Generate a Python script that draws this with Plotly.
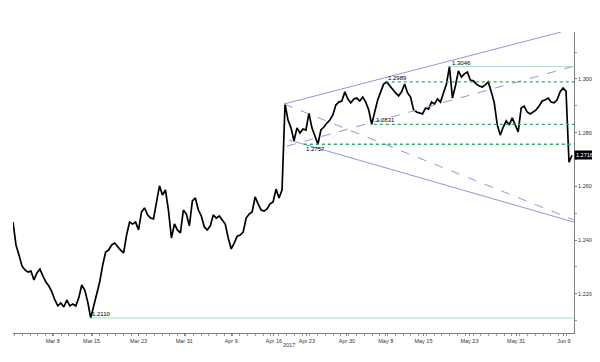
import plotly.graph_objects as go

close = [
    1.2467, 1.2382, 1.2345, 1.2304, 1.2289, 1.2281, 1.2285, 1.2252, 1.2278, 1.2292,
    1.2267, 1.2244, 1.2229, 1.2207, 1.2177, 1.2155, 1.2166, 1.2151, 1.2177, 1.2155,
    1.2162, 1.2155, 1.2185, 1.2233, 1.2214, 1.2170, 1.2110, 1.2158, 1.2203, 1.2244,
    1.2307, 1.2356, 1.2363, 1.2382, 1.2389, 1.2374, 1.2363, 1.2352, 1.2419, 1.2467,
    1.2460, 1.2467, 1.2438, 1.2505, 1.2520, 1.2494, 1.2482, 1.2479, 1.2538, 1.2602,
    1.2568, 1.2587, 1.2512, 1.2408, 1.2460, 1.2438, 1.2427, 1.2512, 1.2497, 1.2453,
    1.2546, 1.2557, 1.2512, 1.2490, 1.2449, 1.2438, 1.2453, 1.2494, 1.2482, 1.2490,
    1.2475, 1.2460, 1.2408, 1.2367, 1.2389, 1.2415, 1.2419, 1.2430, 1.2482, 1.2497,
    1.2505, 1.2561, 1.2535, 1.2512, 1.2508, 1.2516, 1.2535, 1.2542, 1.2590, 1.2557,
    1.2587, 1.2907, 1.2847, 1.2818, 1.2770, 1.2818, 1.2799, 1.2814, 1.2810, 1.2873,
    1.2818, 1.2791, 1.2757, 1.2810, 1.2821, 1.2836, 1.2847, 1.2866, 1.2903, 1.2914,
    1.2918, 1.2952, 1.2926, 1.2911, 1.2926, 1.2929, 1.2918, 1.2933, 1.2914, 1.2885,
    1.2831, 1.2877, 1.2922, 1.2952, 1.2981, 1.2989, 1.2974, 1.2959, 1.2948, 1.2937,
    1.2952, 1.2981, 1.2948, 1.2933, 1.2885, 1.2877, 1.2873, 1.2870, 1.2892, 1.2888,
    1.2914, 1.2907, 1.2926, 1.2914, 1.2948, 1.2981, 1.3046, 1.2929, 1.2974, 1.3030,
    1.3007, 1.3019, 1.3026, 1.2996, 1.2993, 1.2981, 1.2974, 1.2970, 1.2978, 1.2989,
    1.2952, 1.2911, 1.2829, 1.2791, 1.2821, 1.2844, 1.2829, 1.2855, 1.2829, 1.2803,
    1.2892, 1.2899, 1.2877, 1.2870, 1.2877, 1.2885, 1.2899, 1.2918, 1.2922, 1.2929,
    1.2914, 1.2911, 1.2922, 1.2952, 1.2966, 1.2955, 1.2690, 1.2716,
]
bar_index = list(range(len(close)))

tick_pos = [13.3, 26.3, 42, 57.3, 73, 87.3, 98.3, 111.7, 124.7, 137.3, 152.7, 168.3, 184.3]
tick_text = ["Mar 8", "Mar 15", "Mar 23", "Mar 31", "Apr 9", "Apr 16", "Apr 23",
             "Apr 30", "May 8", "May 15", "May 23", "May 31", "Jun 9"]
price_ticks = [1.22, 1.24, 1.26, 1.28, 1.30]

# Levels: value, start index, dashed?, label offset
level_values = [1.3046, 1.2989, 1.2831, 1.2757, 1.2110]
level_starts = [146.3, 124.7, 120.7, 97.3, 25.7]
level_dashed = [False, True, True, True, False]
level_label_shift = [4, 4, 4, -5, 4]

# Channel / trend lines: (x0, y0, x1, y1)
trend_solid = [(90.67, 1.2907, 183.3, 1.3175), (92.3, 1.2773, 187.67, 1.2467)]
trend_dashed = [(90.67, 1.2907, 187.67, 1.2475), (91.67, 1.2750, 187.67, 1.3048)]

last_price = 1.2716
x_max = 187.67
y_range = [1.20541, 1.31750]

FONT = "Liberation Sans"
LAV = "#9494d6"
GREEN = "#2fa866"
PALE = "#a8dcc4"

fig = go.Figure()
fig.add_trace(go.Scatter(x=bar_index, y=close, mode="lines",
                         line=dict(color="black", width=1.7), hoverinfo="skip",
                         showlegend=False))

shapes = []
for (x0, y0, x1, y1) in trend_solid:
    shapes.append(dict(type="line", xref="x", yref="y", x0=x0, y0=y0, x1=x1, y1=y1,
                       line=dict(color=LAV, width=1)))
for (x0, y0, x1, y1) in trend_dashed:
    shapes.append(dict(type="line", xref="x", yref="y", x0=x0, y0=y0, x1=x1, y1=y1,
                       line=dict(color=LAV, width=1, dash="dash")))
annotations = []
for v, s, d, sh in zip(level_values, level_starts, level_dashed, level_label_shift):
    if d:
        ln = dict(color=GREEN, width=1.3, dash="dot")
    else:
        ln = dict(color=PALE, width=1)
    shapes.append(dict(type="line", xref="x", yref="y", x0=s, x1=x_max, y0=v, y1=v, line=ln))
    annotations.append(dict(x=s, y=v, xref="x", yref="y", text=f"{v:.4f}", showarrow=False,
                            xanchor="left", yanchor="middle", yshift=sh,
                            font=dict(family=FONT, size=6, color="black")))

annotations.append(dict(x=1, xref="paper", y=last_price, yref="y", text=f"{last_price:.4f}",
                        showarrow=False, xanchor="left", yanchor="middle", xshift=0,
                        bgcolor="black", borderpad=1,
                        font=dict(family=FONT, size=5.5, color="white")))
annotations.append(dict(x=92.3, xref="x", y=-0.04, yref="paper", text="2017", showarrow=False,
                        xanchor="center", yanchor="middle",
                        font=dict(family=FONT, size=5.5, color="#333")))

# page body has an 8px default margin, so the figure is sized/offset for it
fig.update_layout(
    width=592, height=354,
    margin=dict(l=5, r=24, t=24, b=29),
    paper_bgcolor="white", plot_bgcolor="white",
    shapes=shapes, annotations=annotations,
    xaxis=dict(range=[0, x_max], showgrid=False, zeroline=False, showline=True,
               linecolor="#808080", linewidth=1, ticks="outside", ticklen=2,
               tickcolor="#808080", tickvals=tick_pos, ticktext=tick_text,
               tickfont=dict(family=FONT, size=5.5, color="#333"),
               minor=dict(ticks="outside", ticklen=2, tick0=0.5, dtick=2.6, tickcolor="#999")),
    yaxis=dict(range=y_range, side="right", showgrid=False, zeroline=False, showline=True,
               linecolor="#808080", linewidth=1, ticks="outside", ticklen=2,
               tickcolor="#808080", tickvals=price_ticks,
               ticktext=[f"{t:.4f}" for t in price_ticks],
               tickfont=dict(family=FONT, size=5.5, color="#333"),
               minor=dict(ticks="outside", ticklen=2, tick0=1.21, dtick=0.01, tickcolor="#999")),
)

fig.write_html("out.html")
